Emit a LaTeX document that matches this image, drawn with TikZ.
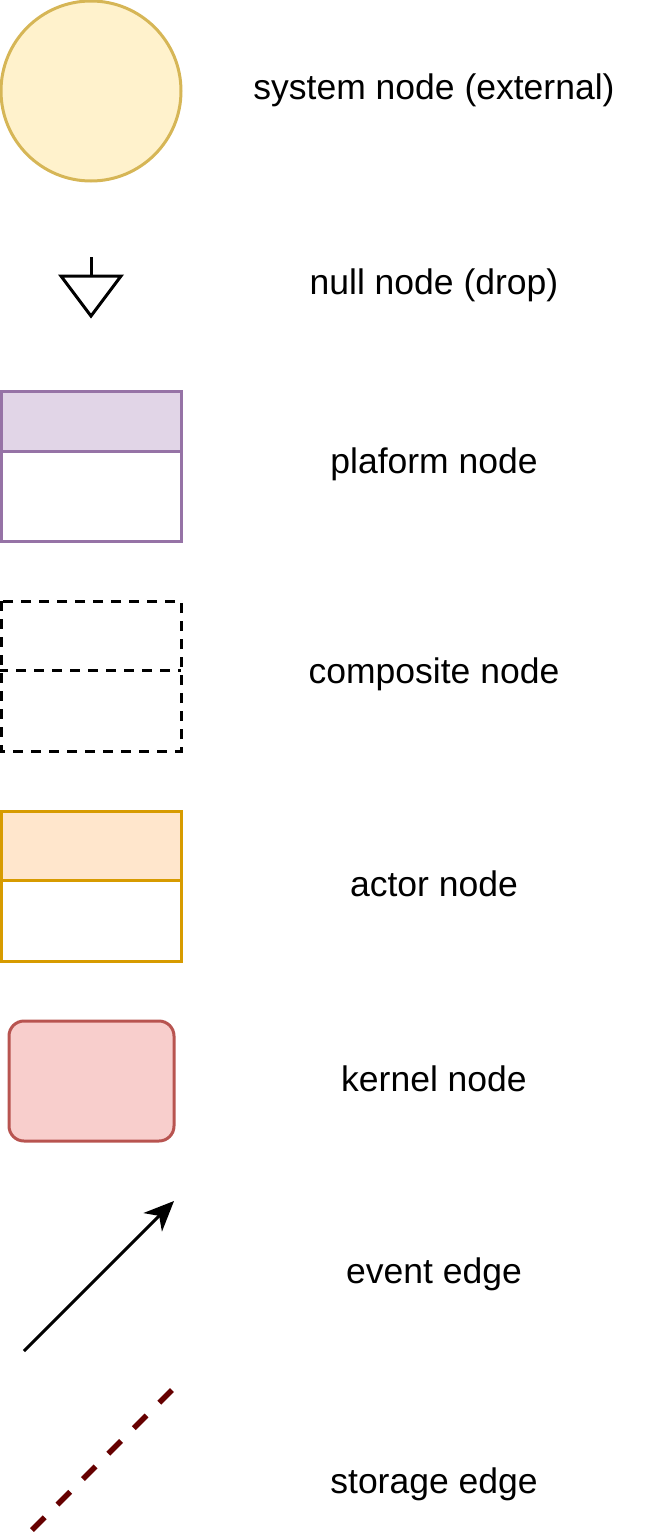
\documentclass[tikz,border=0pt]{standalone}
\usepackage{fontspec}
\setmainfont{Liberation Sans}
\usetikzlibrary{arrows.meta}
\definecolor{sysfill}{HTML}{FFF2CC}
\definecolor{sysdraw}{HTML}{D6B656}
\definecolor{platfill}{HTML}{E1D5E7}
\definecolor{platdraw}{HTML}{9673A6}
\definecolor{actfill}{HTML}{FFE6CC}
\definecolor{actdraw}{HTML}{D79B00}
\definecolor{kerfill}{HTML}{F8CECC}
\definecolor{kerdraw}{HTML}{B85450}
\definecolor{stordraw}{HTML}{660000}
\tikzset{
  lbl/.style={font=\fontsize{35.5}{40}\selectfont, inner sep=0pt, anchor=center},
  shp/.style={line width=3pt},
}
\begin{document}
\begin{tikzpicture}[x=1pt,y=-1pt]
\useasboundingbox (0,0) rectangle (651,1539);
% system node
\draw[shp, fill=sysfill, draw=sysdraw] (91,91) circle (90);
\node[lbl] (t1) at (434,90) {system node (external)};
% null node
\draw[shp, line join=miter] (91,257) -- (91,276);
\draw[shp, line join=miter] (61,276) -- (121,276) -- (91,316) -- cycle;
\node[lbl] (t2) at (434,285) {null node (drop)};
% platform node
\draw[shp, fill=platfill, draw=platdraw] (1,391) rectangle (181,451);
\draw[shp, fill=white, draw=platdraw] (1,451) rectangle (181,541);
\node[lbl] (t3) at (434,464) {plaform node};
% composite node
\draw[shp, dash pattern=on 10pt off 8pt] (1,601) rectangle (181,751);
\draw[shp, dash pattern=on 10pt off 8pt] (-2,670) -- (181,670);
\node[lbl] (t4) at (434,674) {composite node};
% actor node
\draw[shp, fill=actfill, draw=actdraw] (1,811) rectangle (181,880);
\draw[shp, fill=white, draw=actdraw] (1,880) rectangle (181,961);
\node[lbl] (t5) at (434,884) {actor node};
% kernel node
\draw[shp, fill=kerfill, draw=kerdraw, rounded corners=15pt] (9,1021) rectangle (174,1141);
\node[lbl] (t6) at (434,1079) {kernel node};
% event edge
\coordinate (e1) at (24,1351);
\coordinate (e2) at (174,1201);
\draw[shp, -{Stealth[length=30pt,width=26pt,inset=9pt]}] (e1) -- (e2);
\node[lbl] (t7) at (434,1274) {event edge};
% storage edge
\coordinate (s1) at (31,1531);
\coordinate (s2) at (172,1390);
\draw[line width=5.5pt, draw=stordraw, dash pattern=on 18pt off 18pt] (s2) -- (s1);
\node[lbl] (t8) at (434,1484) {storage edge};
\end{tikzpicture}
\end{document}
